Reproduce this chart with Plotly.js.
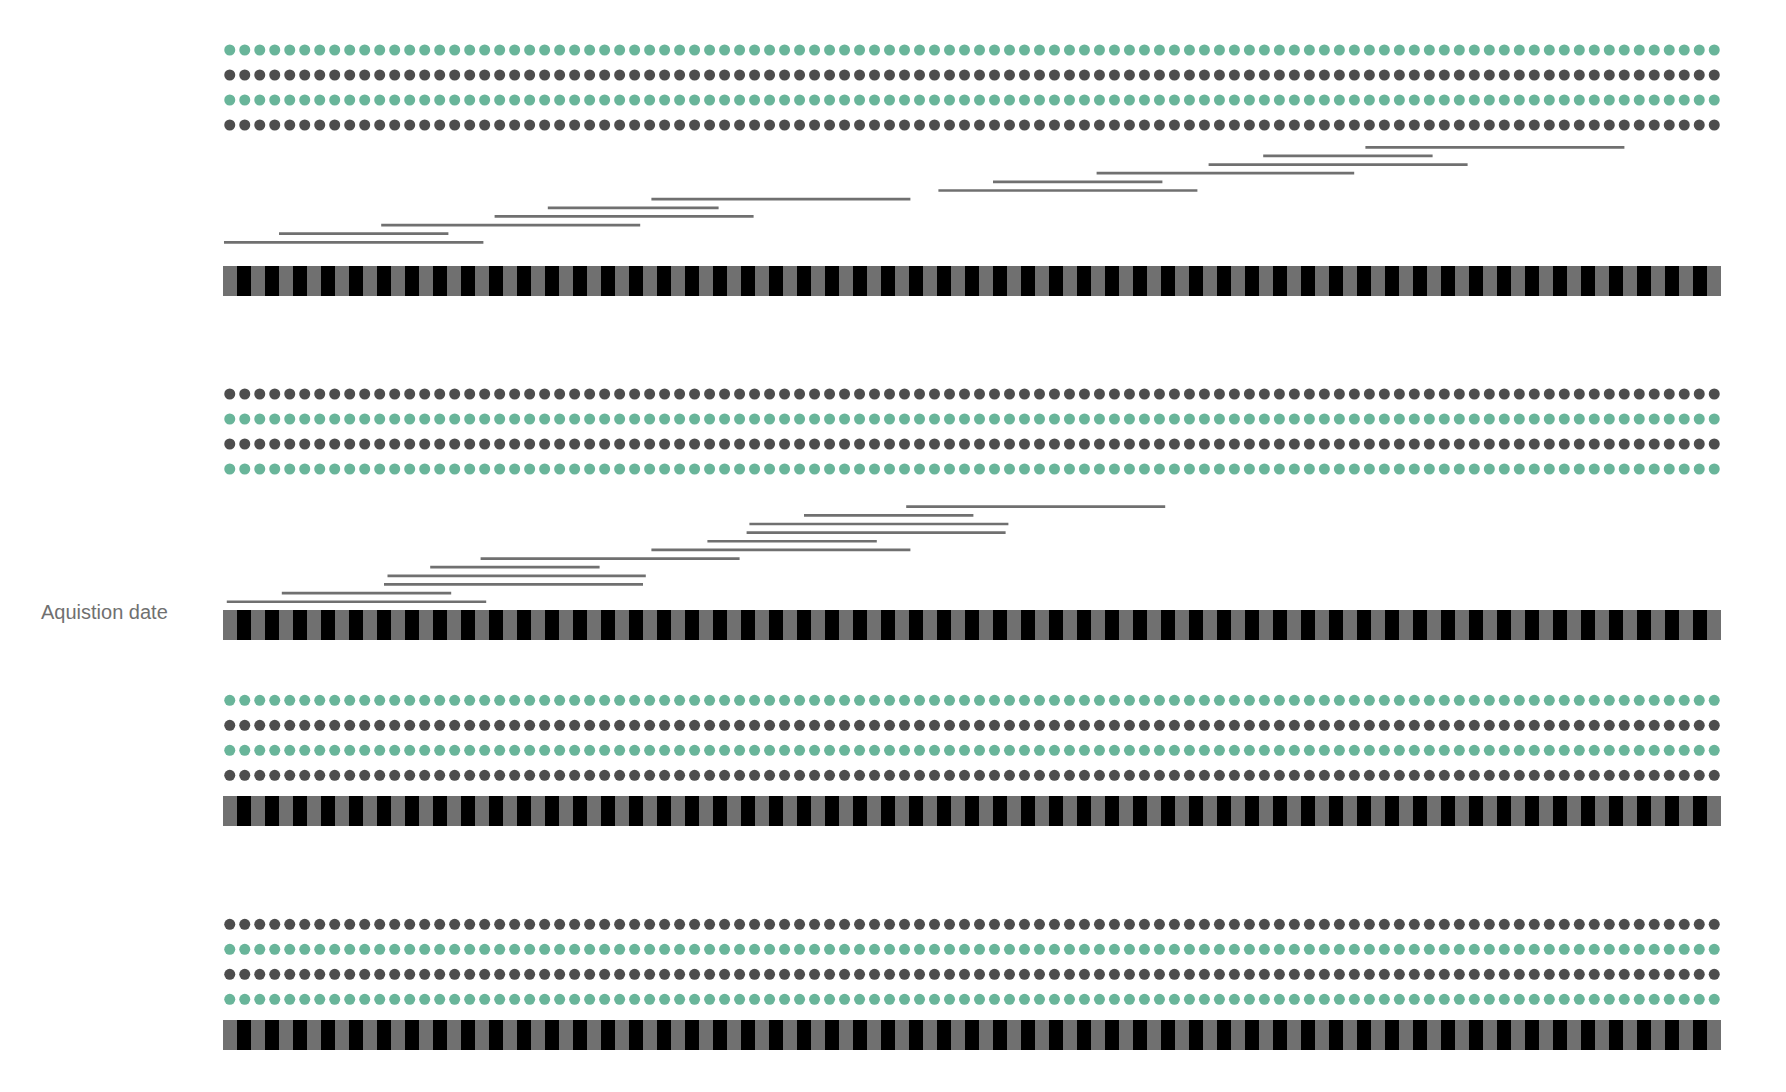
<!DOCTYPE html>
<html><head><meta charset="utf-8">
<script src="https://cdn.plot.ly/plotly-3.0.1.min.js"></script>
<style>html,body{margin:0;padding:0;background:#fff}#chart{width:1786px;height:1092px}</style>
</head><body><div id="chart"></div>
<script>
// ---------------- data ----------------
const stripeCount = 107;                       // alternating period stripes
const dotCount = 100;                          // dots per row
const panelDotOrder = [
  ['green','dark','green','dark'],
  ['dark','green','dark','green'],
  ['green','dark','green','dark'],
  ['dark','green','dark','green']
];
// interval bars (rows listed from bottom to top), in stripe units
const p1Start = [0.07, 4.0, 11.3, 19.4, 23.2, 30.6, 51.1, 55.0, 62.4, 70.4, 74.3, 81.6];
const p1End   = [18.6, 16.1, 29.8, 37.9, 35.4, 49.1, 69.6, 67.1, 80.8, 88.9, 86.4, 100.1];
const p2Start = [0.27, 4.2, 11.5, 11.75, 14.8, 18.4, 30.6, 34.6, 37.4, 37.6, 41.5, 48.8];
const p2End   = [18.8, 16.3, 30.0, 30.2, 26.9, 36.9, 49.1, 46.7, 55.9, 56.1, 53.6, 67.3];
const labelText = 'Aquistion date';

// ---------------- style / layout ----------------
const W = 1786, H = 1092;
const colors = {green:'#69b59a', dark:'#4d4d4d', stripeA:'#707070', stripeB:'#000000', line:'#707070'};
const panels = [
  {dotTop:50,    lineTop:147.3, stripeTop:266, starts:p1Start, ends:p1End},
  {dotTop:394,   lineTop:506.7, stripeTop:610, starts:p2Start, ends:p2End},
  {dotTop:700.3, stripeTop:796},
  {dotTop:924.3, stripeTop:1020}
];
const dotGap = 25, lineGap = 8.64, stripeH = 30;
const py = v => 1 - v / H;

const layout = {
  width: W, height: H,
  margin: {l:0, r:0, t:0, b:0},
  paper_bgcolor: '#ffffff', plot_bgcolor: 'rgba(0,0,0,0)',
  showlegend: false, bargap: 0,
  xaxis:  {domain:[223/W, 1721/W], range:[0, stripeCount], visible:false, fixedrange:true, anchor:'y'},
  xaxis2: {domain:[223/W, 1721/W], range:[-0.45, dotCount - 0.55], visible:false, fixedrange:true, anchor:'y'},
  annotations: [{
    text: labelText, xref:'paper', yref:'paper', x: 39/W, y: py(611.5), xanchor:'left', yanchor:'middle',
    showarrow:false, font:{family:'"Liberation Sans", Arial, sans-serif', size:20, color:'#707070'}
  }]
};
const traces = [];
let axisN = 0;
function newY(topPx, botPx, range) {
  axisN++;
  const key = axisN === 1 ? 'yaxis' : 'yaxis' + axisN;
  layout[key] = {domain:[py(botPx), py(topPx)], range: range, visible:false, fixedrange:true, anchor:'x'};
  return axisN === 1 ? 'y' : 'y' + axisN;
}

const stripeX = Array.from({length:stripeCount}, (_, i) => i + 0.5);
const stripeCol = stripeX.map((_, i) => i % 2 === 0 ? colors.stripeA : colors.stripeB);
const dotX = Array.from({length:dotCount}, (_, i) => i);

panels.forEach((p, pi) => {
  // dots
  const yd = newY(p.dotTop - dotGap/2, p.dotTop + 3*dotGap + dotGap/2, [3.5, -0.5]);
  panelDotOrder[pi].forEach((c, r) => {
    traces.push({type:'scatter', mode:'markers', xaxis:'x2', yaxis:yd,
      x: dotX, y: dotX.map(() => r), cliponaxis:false, hoverinfo:'skip',
      marker:{size:11, color:colors[c], line:{width:0}}});
  });
  // interval lines
  if (p.starts) {
    const n = p.starts.length;
    const bottom = p.lineTop + (n-1)*lineGap;
    const yl = newY(p.lineTop - lineGap/2, bottom + lineGap/2, [-0.5, n - 0.5]);
    const lx = [], ly = [];
    p.starts.forEach((s, i) => { lx.push(s, p.ends[i], null); ly.push(i, i, null); });
    traces.push({type:'scatter', mode:'lines', xaxis:'x', yaxis:yl, x:lx, y:ly,
      cliponaxis:false, hoverinfo:'skip', line:{color:colors.line, width:2.7}});
  }
  // stripe band
  const ys = newY(p.stripeTop, p.stripeTop + stripeH, [0, 1]);
  traces.push({type:'bar', xaxis:'x', yaxis:ys, x:stripeX, y:stripeX.map(() => 1), width:1,
    hoverinfo:'skip', marker:{color:stripeCol, line:{width:0}}});
});

Plotly.newPlot('chart', traces, layout, {displayModeBar:false, staticPlot:true});
</script>
</body></html>
